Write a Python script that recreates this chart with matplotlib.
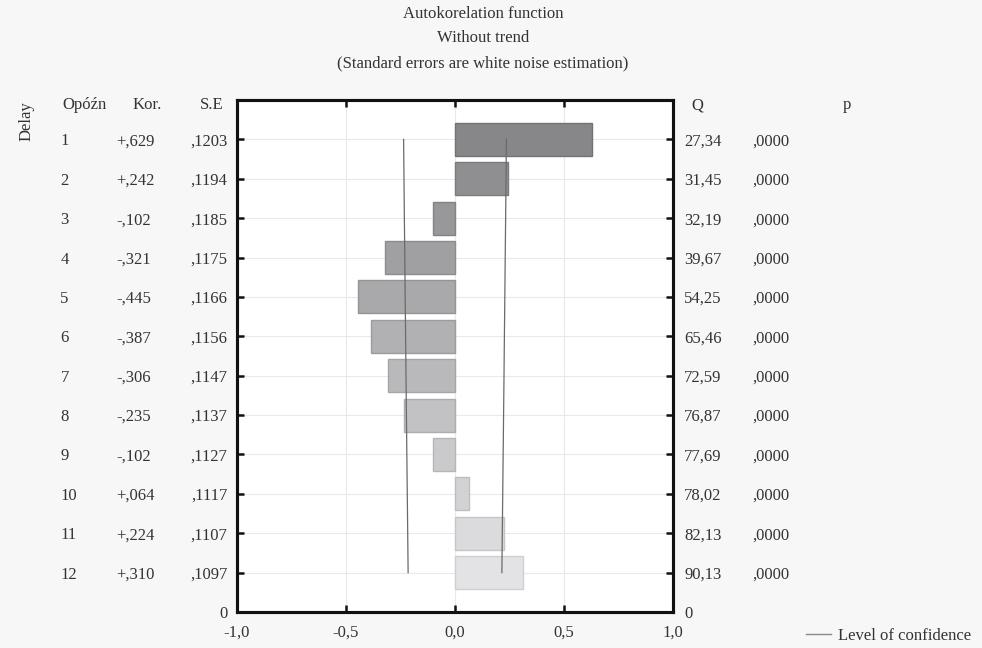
import matplotlib
matplotlib.use("Agg")
import matplotlib.pyplot as plt
import numpy as np

# Autocorrelation table
lags = [1, 2, 3, 4, 5, 6, 7, 8, 9, 10, 11, 12]
kor = [0.629, 0.242, -0.102, -0.321, -0.445, -0.387, -0.306, -0.235, -0.102, 0.064, 0.224, 0.310]
kor_labels = ["+,629", "+,242", "-,102", "-,321", "-,445", "-,387", "-,306", "-,235", "-,102", "+,064", "+,224", "+,310"]
se = [0.1203, 0.1194, 0.1185, 0.1175, 0.1166, 0.1156, 0.1147, 0.1137, 0.1127, 0.1117, 0.1107, 0.1097]
se_labels = [",1203", ",1194", ",1185", ",1175", ",1166", ",1156", ",1147", ",1137", ",1127", ",1117", ",1107", ",1097"]
q_labels = ["27,34", "31,45", "32,19", "39,67", "54,25", "65,46", "72,59", "76,87", "77,69", "78,02", "82,13", "90,13"]
p_labels = [",0000"] * 12
x_ticks = [-1.0, -0.5, 0.0, 0.5, 1.0]
x_tick_labels = ["-1,0", "-0,5", "0,0", "0,5", "1,0"]

plt.rcParams["font.family"] = ["Liberation Serif", "DejaVu Serif"]
plt.rcParams["font.size"] = 12

fig = plt.figure(figsize=(9.82, 6.48), dpi=100, facecolor="#f7f7f7")
ax = fig.add_axes([237 / 982, 1 - 612 / 648, 436 / 982, 512 / 648])
ax.set_facecolor("white")

n = len(lags)
ypos = np.array([n + 1 - k for k in lags], dtype=float)

# bar shades go from dark (first lag) to light (last lag)
shades = np.linspace(0.53, 0.89, n)
faces = [(s, s, s + 0.01) for s in shades]
edges = [(s - 0.08, s - 0.08, s - 0.07) for s in shades]
ax.barh(ypos, kor, height=0.84, color=faces, edgecolor=edges, linewidth=1.0, zorder=2)

# confidence limits (+/- 1.96 SE)
limit = 1.96 * np.array(se)
ax.plot(-limit, ypos, color="#6a6a6a", lw=0.9, zorder=3)
ax.plot(limit, ypos, color="#6a6a6a", lw=0.9, zorder=3, label="Level of confidence")

ax.set_xlim(-1, 1)
ax.set_ylim(0, n + 1)
ax.set_xticks(x_ticks)
ax.set_xticklabels(x_tick_labels)
ax.set_yticks([0] + list(ypos))
ax.set_yticklabels(["0"] + se_labels)
ax.grid(True, color="#e9e9e9", lw=0.8, zorder=0)
ax.set_axisbelow(True)
ax.tick_params(direction="in", length=5, width=1.8, pad=7, colors="#111111", labelcolor="#333333")
ax.tick_params(axis="x", top=True, pad=9)
for sp in ax.spines.values():
    sp.set_linewidth(2.2)
    sp.set_color("#111111")

ax2 = ax.twinx()
ax2.set_ylim(0, n + 1)
ax2.set_yticks([0] + list(ypos))
ax2.set_yticklabels(["0"] + q_labels)
ax2.tick_params(direction="in", length=5, width=1.8, pad=8, colors="#111111", labelcolor="#333333")
for sp in ax2.spines.values():
    sp.set_linewidth(2.2)
    sp.set_color("#111111")

tr = ax.get_yaxis_transform()
txt = dict(color="#333333", va="center_baseline", transform=tr, clip_on=False)

# table columns
for y, k, kl, pl in zip(ypos, lags, kor_labels, p_labels):
    ax.text(-0.405, y, str(k), ha="left", **txt)
    ax.text(-0.276, y, kl, ha="left", **txt)
    ax.text(1.183, y, pl, ha="left", **txt)

hy = n + 0.92
ax.text(-0.40, hy, "Opóźn", ha="left", **txt)
ax.text(-0.24, hy, "Kor.", ha="left", **txt)
ax.text(-0.03, hy, "S.E", ha="right", **txt)
ax.text(1.055, hy, "Q", ha="center", **txt)
ax.text(1.40, hy, "p", ha="center", **txt)
fig.text(27 / 982, 1 - 121 / 648, "Delay", rotation=90, ha="center", va="center", color="#333333")

# titles
for yy, s in zip([12, 36, 61], ["Autokorelation function", "Without trend",
                                "(Standard errors are white noise estimation)"]):
    fig.text(483 / 982, 1 - yy / 648, s, ha="center", va="center_baseline", color="#333333")

# legend entry
fig.add_artist(plt.Line2D([806 / 982, 831 / 982], [1 - 634 / 648, 1 - 634 / 648],
                          color="#8a8a8a", lw=1.0))
fig.text(838 / 982, 1 - 634 / 648, "Level of confidence", ha="left", va="center_baseline", color="#333333")

fig.savefig("out.png", dpi=100, facecolor=fig.get_facecolor())
